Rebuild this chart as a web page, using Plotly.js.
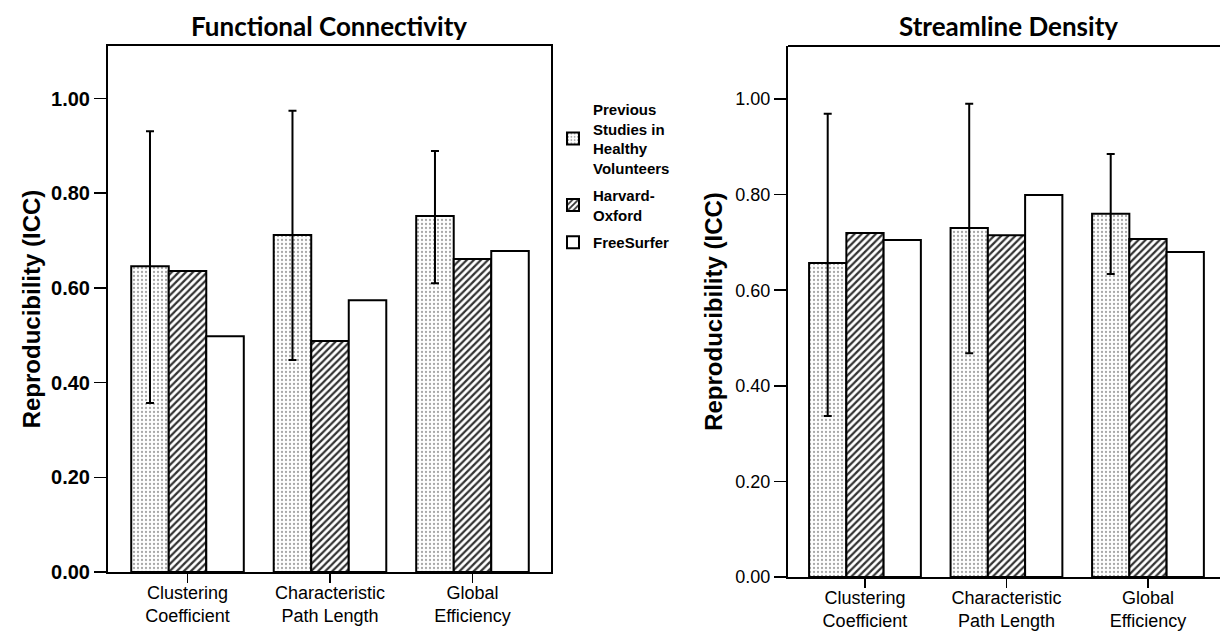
<!DOCTYPE html>
<html><head><meta charset="utf-8">
<script src="https://cdn.plot.ly/plotly-3.0.1.min.js"></script>
<style>html,body{margin:0;padding:0;background:#fff}#chart{width:1220px;height:631px}</style>
</head><body><div id="chart"></div>
<script>
// ---- data ----
const categories = ['Clustering<br>Coefficient', 'Characteristic<br>Path Length', 'Global<br>Efficiency'];
const seriesNames = ['Previous<br>Studies in<br>Healthy<br>Volunteers', 'Harvard-<br>Oxford', 'FreeSurfer'];
const panelTitles = ['Functional Connectivity', 'Streamline Density'];
const yTitle = 'Reproducibility (ICC)';

// Functional Connectivity
const fcPrevious   = [0.646, 0.712, 0.752];
const fcPrevUpper  = [0.931, 0.974, 0.889];
const fcPrevLower  = [0.357, 0.448, 0.610];
const fcHarvard    = [0.636, 0.488, 0.661];
const fcFreeSurfer = [0.498, 0.574, 0.678];

// Streamline Density
const sdPrevious   = [0.657, 0.730, 0.760];
const sdPrevUpper  = [0.969, 0.990, 0.885];
const sdPrevLower  = [0.337, 0.468, 0.634];
const sdHarvard    = [0.720, 0.715, 0.707];
const sdFreeSurfer = [0.705, 0.799, 0.680];

const yTickVals = [0, 0.2, 0.4, 0.6, 0.8, 1.0];
const yTickText = ['0.00', '0.20', '0.40', '0.60', '0.80', '1.00'];

// ---- styles ----
const FONT = 'Liberation Sans, Arial, sans-serif';
const W = 1220, H = 631;
const outline = {color: '#000', width: 2};
const patPrev = {shape: '.', fgcolor: '#a8a8a8', bgcolor: '#fff', size: 4, solidity: 0.25};
const patHarv = {shape: '/', fgcolor: '#333', bgcolor: '#fff', size: 5, solidity: 0.45};

function panel(xa, ya, prev, up, lo, harv, fs, show) {
  return [
    {type: 'bar', name: seriesNames[0], x: categories, y: prev, xaxis: xa, yaxis: ya,
     legendgroup: 'g0', showlegend: show,
     marker: {color: '#fff', line: outline, pattern: patPrev},
     error_y: {type: 'data', symmetric: false,
               array: up.map((u, i) => u - prev[i]),
               arrayminus: lo.map((l, i) => prev[i] - l),
               color: '#000', thickness: 2, width: 4},
     hoverinfo: 'y'},
    {type: 'bar', name: seriesNames[1], x: categories, y: harv, xaxis: xa, yaxis: ya,
     legendgroup: 'g1', showlegend: show,
     marker: {color: '#fff', line: outline, pattern: patHarv}, hoverinfo: 'y'},
    {type: 'bar', name: seriesNames[2], x: categories, y: fs, xaxis: xa, yaxis: ya,
     legendgroup: 'g2', showlegend: show,
     marker: {color: '#fff', line: outline}, hoverinfo: 'y'}
  ];
}

const data = [].concat(
  panel('x', 'y', fcPrevious, fcPrevUpper, fcPrevLower, fcHarvard, fcFreeSurfer, true),
  panel('x2', 'y2', sdPrevious, sdPrevUpper, sdPrevLower, sdHarvard, sdFreeSurfer, false)
);

const xCommon = {
  type: 'category', showline: true, linecolor: '#000', linewidth: 2,
  ticks: 'outside', ticklen: 9, tickwidth: 1.5, tickcolor: '#000',
  ticklabelstandoff: -6,
  tickfont: {family: FONT, size: 18, color: '#000'},
  showgrid: false, zeroline: false, fixedrange: true
};
const yCommon = {
  range: [0, 1.111], tickvals: yTickVals, ticktext: yTickText,
  showline: true, linecolor: '#000', linewidth: 2,
  ticks: 'outside', ticklen: 12, tickwidth: 1.5, tickcolor: '#000',
  showgrid: false, zeroline: false, fixedrange: true
};
const yTitleFont = {family: FONT, size: 24, color: '#000', weight: 'bold'};
const titleFont = {family: 'Lato, Open Sans, sans-serif', size: 26, color: '#000', weight: 'bold'};

const layout = {
  width: W, height: H,
  margin: {l: 0, r: 0, t: 0, b: 0},
  paper_bgcolor: '#fff', plot_bgcolor: '#fff',
  barmode: 'group', bargap: 0.21, bargroupgap: 0,
  xaxis: Object.assign({}, xCommon, {domain: [108 / W, 551 / W], range: [-0.558, 2.551],
                                     mirror: true, anchor: 'y'}),
  yaxis: Object.assign({}, yCommon, {domain: [59 / H, 585 / H], mirror: true, anchor: 'x',
    tickfont: {family: FONT, size: 20, color: '#000', weight: 'bold'},
    title: {text: yTitle, font: yTitleFont, standoff: 4}}),
  xaxis2: Object.assign({}, xCommon, {domain: [788 / W, 1], range: [-0.544, 2.509], anchor: 'y2'}),
  yaxis2: Object.assign({}, yCommon, {domain: [54 / H, 585 / H], anchor: 'x2',
    tickfont: {family: FONT, size: 18, color: '#000'},
    title: {text: yTitle, font: yTitleFont, standoff: 6}}),
  shapes: [
    {type: 'line', xref: 'x2 domain', yref: 'y2 domain', x0: 0, x1: 1, y0: 1, y1: 1,
     line: {color: '#000', width: 2}}
  ],
  annotations: [
    {text: panelTitles[0], xref: 'paper', yref: 'paper', x: 329.5 / W, y: 1 - 26 / H,
     xanchor: 'center', yanchor: 'middle', showarrow: false, font: titleFont},
    {text: panelTitles[1], xref: 'paper', yref: 'paper', x: 1008 / W, y: 1 - 26 / H,
     xanchor: 'center', yanchor: 'middle', showarrow: false, font: titleFont}
  ],
  legend: {x: 553 / W, y: 1 - 93 / H, xanchor: 'left', yanchor: 'top',
           bgcolor: 'rgba(0,0,0,0)', borderwidth: 0, tracegroupgap: 5,
           font: {family: FONT, size: 15, color: '#000', weight: 'bold'}},
  showlegend: true
};

Plotly.newPlot('chart', data, layout, {displayModeBar: false, staticPlot: true});
</script>
</body></html>
